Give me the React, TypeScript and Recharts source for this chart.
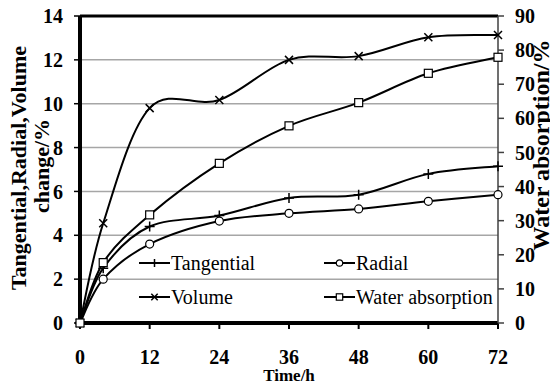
import React from "react";
import {
  LineChart,
  Line,
  XAxis,
  YAxis,
  CartesianGrid,
  Legend,
  ReferenceLine,
} from "recharts";

// sampling times (h) and measured values
const hours = [0, 4, 12, 24, 36, 48, 60, 72];
const tangential = [0, 2.5, 4.4, 4.9, 5.7, 5.85, 6.8, 7.15];
const radial = [0, 2.0, 3.6, 4.65, 5.0, 5.2, 5.55, 5.85];
const volume = [0, 4.55, 9.8, 10.17, 12.0, 12.17, 13.03, 13.13];
const waterAbsorption = [0, 17.7, 31.7, 46.8, 57.8, 64.6, 73.2, 77.9];

const xTicks = [0, 12, 24, 36, 48, 60, 72];
const leftTicks = [0, 2, 4, 6, 8, 10, 12, 14];
const rightTicks = [0, 10, 20, 30, 40, 50, 60, 70, 80, 90];

const data = hours.map((h, i) => ({
  hour: h,
  tangential: tangential[i],
  radial: radial[i],
  volume: volume[i],
  water: waterAbsorption[i],
}));

const FONT = "'Liberation Serif', 'Times New Roman', serif";

// Excel-like smoothed line (Catmull-Rom as cubic beziers)
const excelSmooth = (context: any) => {
  let pts: number[][] = [];
  return {
    areaStart() {},
    areaEnd() {},
    lineStart() {
      pts = [];
    },
    point(x: number, y: number) {
      pts.push([+x, +y]);
    },
    lineEnd() {
      const n = pts.length;
      if (!n) return;
      context.moveTo(pts[0][0], pts[0][1]);
      const t = 1 / 6;
      for (let i = 0; i < n - 1; i++) {
        const p0 = pts[Math.max(0, i - 1)];
        const p1 = pts[i];
        const p2 = pts[i + 1];
        const p3 = pts[Math.min(n - 1, i + 2)];
        context.bezierCurveTo(
          p1[0] + (p2[0] - p0[0]) * t,
          p1[1] + (p2[1] - p0[1]) * t,
          p2[0] - (p3[0] - p1[0]) * t,
          p2[1] - (p3[1] - p1[1]) * t,
          p2[0],
          p2[1]
        );
      }
    },
  };
};

type Shape = "plus" | "circle" | "cross" | "square";

const Marker = ({ cx, cy, shape, s = 5 }: { cx: number; cy: number; shape: Shape; s?: number }) => {
  if (cx == null || cy == null) return null;
  if (shape === "plus")
    return (
      <path d={`M${cx - s},${cy}H${cx + s}M${cx},${cy - s}V${cy + s}`} stroke="#000" strokeWidth={1.5} />
    );
  if (shape === "cross")
    return (
      <path
        d={`M${cx - s * 0.8},${cy - s * 0.8}L${cx + s * 0.8},${cy + s * 0.8}M${cx - s * 0.8},${cy + s * 0.8}L${cx + s * 0.8},${cy - s * 0.8}`}
        stroke="#000"
        strokeWidth={1.5}
      />
    );
  if (shape === "circle")
    return <circle cx={cx} cy={cy} r={s * 0.8} fill="#fff" stroke="#000" strokeWidth={1.2} />;
  return (
    <rect x={cx - s * 0.8} y={cy - s * 0.8} width={s * 1.6} height={s * 1.6} fill="#fff" stroke="#000" strokeWidth={1.2} />
  );
};

const dotFor = (shape: Shape) => (p: any) => <Marker key={`${shape}-${p.index}`} cx={p.cx} cy={p.cy} shape={shape} />;

const legendItems: { name: string; shape: Shape }[][] = [
  [
    { name: "Tangential", shape: "plus" },
    { name: "Radial", shape: "circle" },
  ],
  [
    { name: "Volume", shape: "cross" },
    { name: "Water absorption", shape: "square" },
  ],
];

const LegendBox = () => (
  <div style={{ fontFamily: FONT, fontSize: 20, color: "#000", lineHeight: "34px" }}>
    {legendItems.map((row, r) => (
      <div key={r} style={{ display: "flex", height: 34 }}>
        {row.map((it, c) => (
          <div key={it.name} style={{ display: "flex", alignItems: "center", width: c === 0 ? 185 : 175 }}>
            <svg width={31} height={14} style={{ marginRight: 1 }}>
              <line x1={0} y1={7} x2={31} y2={7} stroke="#000" strokeWidth={2} />
              <Marker cx={15.5} cy={7} shape={it.shape} s={4} />
            </svg>
            <span style={{ whiteSpace: "nowrap" }}>{it.name}</span>
          </div>
        ))}
      </div>
    ))}
  </div>
);

const leftTitle = () => (
  <g fontFamily={FONT} fontWeight="bold" fontSize={22} fill="#000">
    <text x={26} y={168} textAnchor="middle" transform="rotate(-90 26 168)">
      Tangential,Radial,Volume
    </text>
    <text x={49} y={166} textAnchor="middle" transform="rotate(-90 49 166)">
      change/%
    </text>
  </g>
);

const rightTitle = () => (
  <g fontFamily={FONT} fontWeight="bold" fontSize={24} fill="#000">
    <text x={549} y={145} textAnchor="middle" transform="rotate(-90 549 145)">
      Water absorption/%
    </text>
  </g>
);

const tickStyle = { fontSize: 20, fontWeight: "bold", fill: "#000", fontFamily: FONT };

export default function App() {
  return (
    <div style={{ position: "absolute", left: 0, top: 0, background: "#fff" }}>
      <LineChart width={550} height={384} data={data} margin={{ top: 16, right: 0, bottom: 0, left: 0 }}>
        <CartesianGrid yAxisId="left" vertical={false} stroke="#a6a6a6" strokeWidth={1.5} />
        <XAxis
          dataKey="hour"
          type="number"
          domain={[0, 72]}
          ticks={xTicks}
          height={61}
          tick={tickStyle}
          tickSize={6}
          tickMargin={21}
          axisLine={{ stroke: "#000", strokeWidth: 4 }}
          tickLine={{ stroke: "#000", strokeWidth: 2 }}
          label={{
            value: "Time/h",
            position: "insideBottom",
            offset: 3,
            fill: "#000",
            fontSize: 17,
            fontWeight: "bold",
            fontFamily: FONT,
          }}
        />
        <YAxis
          yAxisId="left"
          domain={[0, 14]}
          ticks={leftTicks}
          width={80}
          tick={tickStyle}
          tickSize={6}
          tickMargin={11}
          axisLine={{ stroke: "#000", strokeWidth: 4 }}
          tickLine={{ stroke: "#000", strokeWidth: 1.5 }}
          label={leftTitle}
        />
        <YAxis
          yAxisId="right"
          orientation="right"
          domain={[0, 90]}
          ticks={rightTicks}
          width={52}
          tick={tickStyle}
          tickSize={6}
          tickMargin={11}
          axisLine={{ stroke: "#404040", strokeWidth: 1.5 }}
          tickLine={{ stroke: "#404040", strokeWidth: 1.5 }}
          label={rightTitle}
        />
        <ReferenceLine yAxisId="left" y={14} stroke="#000" strokeWidth={3} />
        <Legend
          content={<LegendBox />}
          layout="horizontal"
          verticalAlign="middle"
          align="center"
          wrapperStyle={{ left: 139, top: 246, width: 360 }}
        />
        <Line yAxisId="left" dataKey="tangential" type={excelSmooth as any} stroke="#000" strokeWidth={2} dot={dotFor("plus")} isAnimationActive={false} />
        <Line yAxisId="left" dataKey="radial" type={excelSmooth as any} stroke="#000" strokeWidth={2} dot={dotFor("circle")} isAnimationActive={false} />
        <Line yAxisId="left" dataKey="volume" type={excelSmooth as any} stroke="#000" strokeWidth={2} dot={dotFor("cross")} isAnimationActive={false} />
        <Line yAxisId="right" dataKey="water" type={excelSmooth as any} stroke="#000" strokeWidth={2} dot={dotFor("square")} isAnimationActive={false} />
      </LineChart>
    </div>
  );
}
